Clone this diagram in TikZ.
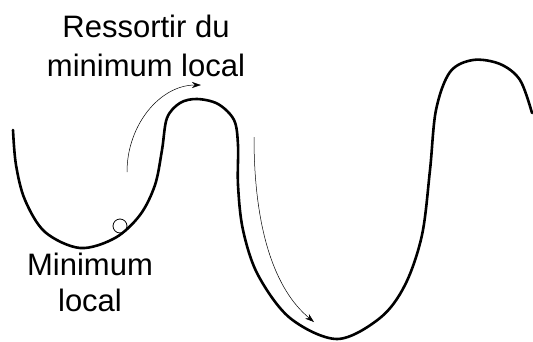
\documentclass[tikz,border=0pt]{standalone}
\usepackage{fontspec}
\setmainfont{Liberation Sans}
\usetikzlibrary{arrows.meta,positioning}

\begin{document}
\begin{tikzpicture}[x=1pt, y=-1pt,
    curve/.style={line width=2.6pt, line join=round, line cap=round},
    move/.style={line width=0.5pt, -{Stealth[length=9pt, width=6pt]}},
    lbl/.style={inner sep=0pt, align=center, anchor=north}
  ]
    \useasboundingbox (0,0) rectangle (533,341);

    % Energy landscape
    \draw[curve] plot[smooth, tension=0.55] coordinates {
      (13,130) (16,165) (25,200) (45,232) (80,248) (115,238) (140,215)
      (155,185) (162,150) (167,118) (180,103) (197,99) (218,104) (234,120)
      (238,145) (238,185) (243,230) (258,275) (290,318) (337,339)
      (380,318) (405,285) (422,235) (430,170) (436,110) (450,72)
      (473,60) (500,64) (520,80) (532,113)};

    % Ball in the local minimum
    \draw[line width=0.8pt] (120,226) circle (7);

    % Labels
    \node[lbl, font=\fontsize{31}{39}\selectfont] (escape) at (146,15)
      {Ressortir du\\minimum local};
    \node[lbl, font=\fontsize{31}{36}\selectfont] (locmin) at (90,253)
      {Minimum\\local};

    % Movement arrows
    \coordinate (a1s) at (127,172);
    \coordinate (a1e) at (201,85);
    \coordinate (a2s) at (254,137);
    \coordinate (a2e) at (314,322);
    \draw[move] (a1s) .. controls (127,125) and (160,85) .. (a1e);
    \draw[move] (a2s) .. controls (254,230) and (275,290) .. (a2e);
  \end{tikzpicture}
\end{document}
